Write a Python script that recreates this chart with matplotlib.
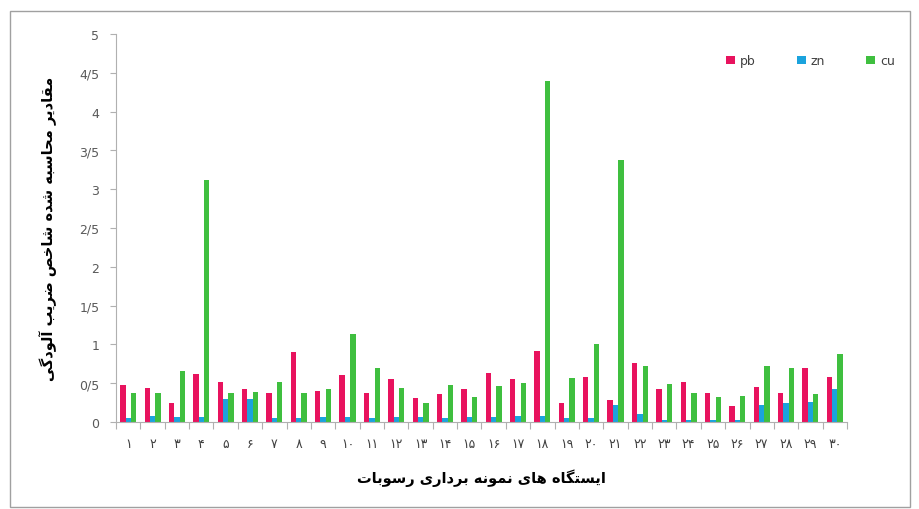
import numpy as np
import matplotlib
matplotlib.use("Agg")
import matplotlib.pyplot as plt
from matplotlib.patches import Rectangle

# --- data ---
stations = list(range(1, 31))
pb = [0.48, 0.44, 0.24, 0.62, 0.51, 0.42, 0.38, 0.90, 0.40, 0.61,
      0.38, 0.56, 0.31, 0.36, 0.42, 0.63, 0.55, 0.92, 0.25, 0.58,
      0.28, 0.76, 0.43, 0.51, 0.37, 0.20, 0.45, 0.37, 0.69, 0.58]
zn = [0.05, 0.08, 0.06, 0.06, 0.29, 0.29, 0.05, 0.05, 0.06, 0.06,
      0.05, 0.06, 0.06, 0.05, 0.06, 0.07, 0.08, 0.08, 0.05, 0.05,
      0.22, 0.10, 0.03, 0.03, 0.03, 0.03, 0.22, 0.25, 0.26, 0.43]
cu = [0.37, 0.37, 0.66, 3.12, 0.38, 0.39, 0.52, 0.37, 0.42, 1.13,
      0.70, 0.44, 0.24, 0.48, 0.32, 0.46, 0.50, 4.40, 0.57, 1.01,
      3.37, 0.72, 0.49, 0.38, 0.32, 0.33, 0.72, 0.69, 0.36, 0.87]
series_names = ["pb", "zn", "cu"]
y_ticks = [0, 0.5, 1, 1.5, 2, 2.5, 3, 3.5, 4, 4.5, 5]
y_labels = ["0", "0/5", "1", "1/5", "2", "2/5", "3", "3/5", "4", "4/5", "5"]
x_title = "ایستگاه های نمونه برداری رسوبات"
y_title = "مقادیر محاسبه شده شاخص ضریب آلودگی"

COLORS = ["#e8135e", "#1ba3dd", "#3fbf3f"]

# --- tiny persian shaper (no arabic_reshaper available) ---
# char -> (isolated, final, initial, medial); two-form letters don't join forward
FORMS = {
    "ا": ("\ufe8d", "\ufe8e"), "آ": ("\ufe81", "\ufe82"),
    "د": ("\ufea9", "\ufeaa"), "ر": ("\ufead", "\ufeae"),
    "و": ("\ufeed", "\ufeee"),
    "ب": ("\ufe8f", "\ufe90", "\ufe91", "\ufe92"),
    "ت": ("\ufe95", "\ufe96", "\ufe97", "\ufe98"),
    "ح": ("\ufea1", "\ufea2", "\ufea3", "\ufea4"),
    "خ": ("\ufea5", "\ufea6", "\ufea7", "\ufea8"),
    "س": ("\ufeb1", "\ufeb2", "\ufeb3", "\ufeb4"),
    "ش": ("\ufeb5", "\ufeb6", "\ufeb7", "\ufeb8"),
    "ص": ("\ufeb9", "\ufeba", "\ufebb", "\ufebc"),
    "ض": ("\ufebd", "\ufebe", "\ufebf", "\ufec0"),
    "ق": ("\ufed5", "\ufed6", "\ufed7", "\ufed8"),
    "ل": ("\ufedd", "\ufede", "\ufedf", "\ufee0"),
    "م": ("\ufee1", "\ufee2", "\ufee3", "\ufee4"),
    "ن": ("\ufee5", "\ufee6", "\ufee7", "\ufee8"),
    "ه": ("\ufee9", "\ufeea", "\ufeeb", "\ufeec"),
    "ی": ("\ufeef", "\ufef0", "\ufef3", "\ufef4"),
    "گ": ("\ufb92", "\ufb93", "\ufb94", "\ufb95"),
}


def shape(text):
    out = []
    for i, ch in enumerate(text):
        f = FORMS.get(ch)
        if f is None:
            out.append(ch)
            continue
        prev = text[i - 1] if i > 0 else ""
        nxt = text[i + 1] if i + 1 < len(text) else ""
        join_prev = prev in FORMS and len(FORMS[prev]) == 4
        join_next = len(f) == 4 and nxt in FORMS
        if join_prev and join_next:
            out.append(f[3])
        elif join_prev:
            out.append(f[1])
        elif join_next:
            out.append(f[2])
        else:
            out.append(f[0])
    return "".join(out)[::-1]


def fa_digits(n):
    return "".join("۰۱۲۳۴۵۶۷۸۹"[int(d)] for d in str(n))


plt.rcParams["font.family"] = ["DejaVu Sans"]

fig = plt.figure(figsize=(9.19, 5.10), dpi=100)
fig.patches.append(Rectangle((10 / 919, 2 / 510), 900 / 919, 496 / 510,
                             transform=fig.transFigure, fill=False,
                             edgecolor="#a0a0a0", linewidth=1))
ax = fig.add_axes([116 / 919, 87 / 510, 731 / 919, 388 / 510])

x = np.arange(len(stations))
w = 0.22
for k, (vals, name) in enumerate(zip([pb, zn, cu], series_names)):
    ax.bar(x + (k - 1) * w, vals, width=w, color=COLORS[k], label=name)

ax.set_xlim(-0.5, len(stations) - 0.5)
ax.set_ylim(0, 5)
ax.set_yticks(y_ticks)
ax.set_yticklabels(y_labels)
ax.set_xticks(np.arange(len(stations) + 1) - 0.5)
ax.set_xticklabels([])
ax.set_xticks(x, minor=True)
ax.set_xticklabels([fa_digits(s) for s in stations], minor=True)
ax.tick_params(axis="x", which="major", length=5, color="#b0b0b0")
ax.tick_params(axis="x", which="minor", length=0, pad=11, labelsize=9,
               labelcolor="#404040")
ax.tick_params(axis="y", length=4, color="#b0b0b0", labelsize=9,
               labelcolor="#595959", pad=8)

for s in ["top", "right"]:
    ax.spines[s].set_visible(False)
for s in ["left", "bottom"]:
    ax.spines[s].set_color("#b0b0b0")

ax.set_xlabel(shape(x_title), fontsize=10.5, fontweight="bold", labelpad=13)
ax.set_ylabel(shape(y_title), fontsize=10.5, fontweight="bold", labelpad=16)

ax.legend(loc="upper right", bbox_to_anchor=(906 / 919, 1 - 44 / 510),
          bbox_transform=fig.transFigure, ncol=3, frameon=False,
          fontsize=9, handlelength=0.7, handleheight=0.7, columnspacing=3.3,
          handletextpad=0.4, labelcolor="#404040")

fig.savefig("out.png", dpi=100)
